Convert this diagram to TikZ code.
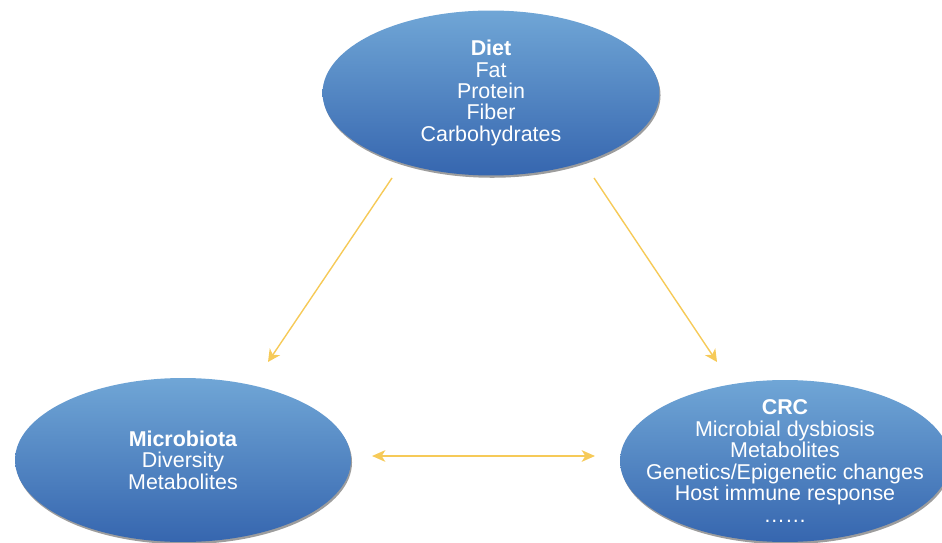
\documentclass[tikz,border=0pt]{standalone}
\usepackage{fontspec}
\setmainfont{Liberation Sans}
\usetikzlibrary{shapes.geometric,shadows,arrows.meta}

\definecolor{blusu}{RGB}{112,166,214}
\definecolor{blugiu}{RGB}{54,102,175}
\definecolor{giallo}{RGB}{246,202,88}

\begin{document}
\begin{tikzpicture}[x=0.02cm,y=-0.02cm,
    bolla/.style={ellipse, top color=blusu, bottom color=blugiu, text=white,
        align=center, inner xsep=-0.6cm, inner ysep=-0.3cm, font=\fontsize{12.2}{12.2}\selectfont,
        drop shadow={shadow xshift=0.6pt, shadow yshift=-1.3pt, fill=black!55, opacity=0.7}},
    freccia/.style={-{Stealth[length=7pt,width=7pt,inset=2pt]}, giallo, line width=0.8pt}]
        % Area del disegno (in pixel)
        \useasboundingbox (0,0) rectangle (942,543);

        % Le tre ellissi
        \node[bolla, minimum width=6.74cm, minimum height=3.3cm] (diet) at (491,93)
            {\textbf{Diet}\\Fat\\Protein\\Fiber\\Carbohydrates};
        \node[bolla, minimum width=6.72cm, minimum height=3.28cm] (micro) at (183,460)
            {\textbf{Microbiota}\\Diversity\\Metabolites};
        \node[bolla, minimum width=6.6cm, minimum height=3.24cm] (crc) at (785,461)
            {\textbf{CRC}\\Microbial dysbiosis\\Metabolites\\Genetics/Epigenetic changes\\Host immune response\\……};

        % Estremi delle frecce
        \coordinate (d1) at (392,178);
        \coordinate (m1) at (268,362);
        \coordinate (d2) at (594,178);
        \coordinate (c1) at (717,362);
        \coordinate (m2) at (372,456);
        \coordinate (c2) at (595,456);

        % Frecce
        \draw[freccia] (d1) -- (m1);
        \draw[freccia] (d2) -- (c1);
        \draw[freccia, {Stealth[length=7.5pt,width=6.5pt,inset=2pt]}-{Stealth[length=7.5pt,width=6.5pt,inset=2pt]}, line width=1.4pt] (m2) -- (c2);
    \end{tikzpicture}
\end{document}
